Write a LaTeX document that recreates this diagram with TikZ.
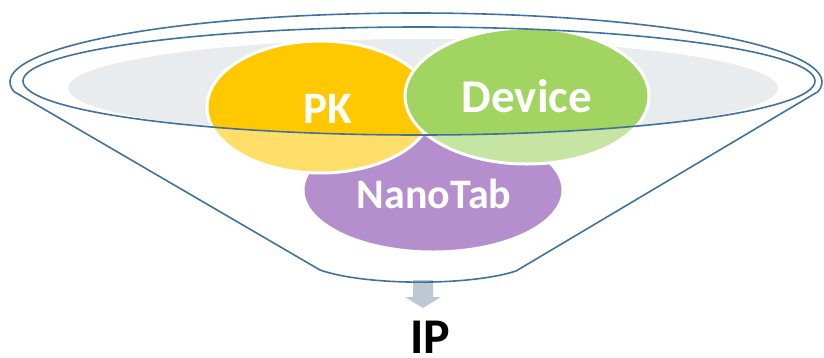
\documentclass[tikz,border=0pt]{standalone}
\usepackage{fontspec}
\setmainfont{Carlito}
\definecolor{funnelblue}{HTML}{41729C}
\definecolor{bowlgray}{HTML}{E8ECEF}
\definecolor{pkdark}{HTML}{FFC800}
\definecolor{pklight}{HTML}{FFDE6A}
\definecolor{devdark}{HTML}{A2D461}
\definecolor{devlight}{HTML}{C6E5A2}
\definecolor{nanocol}{HTML}{B48ECD}
\definecolor{arrowgray}{HTML}{BDC8D3}
\tikzset{
  funnelline/.style={draw=funnelblue, line width=1.6pt, line join=round},
  bubbleedge/.style={draw=white, line width=3pt},
  lbl/.style={text=white, anchor=base, inner sep=0pt},
}
\begin{document}
\begin{tikzpicture}[x=1pt,y=-1pt]
\useasboundingbox (0,0) rectangle (824,357);
% bowl inner gray
\fill[bowlgray] (423,88) ellipse [x radius=355, y radius=49];
% NanoTab
\fill[nanocol] (433,190) ellipse [x radius=130, y radius=62];
\draw[bubbleedge] (433,190) ellipse [x radius=130, y radius=62];
% PK
\fill[pklight] (320,107) ellipse [x radius=113, y radius=66];
\begin{scope}
  \clip (419,81) ellipse [x radius=396, y radius=54];
  \fill[pkdark] (320,107) ellipse [x radius=113, y radius=66];
\end{scope}
\draw[bubbleedge] (320,107) ellipse [x radius=113, y radius=66];
% Device
\fill[devlight] (527,96) ellipse [x radius=122, y radius=68];
\begin{scope}
  \clip (419,81) ellipse [x radius=396, y radius=54];
  \fill[devdark] (527,96) ellipse [x radius=122, y radius=68];
\end{scope}
\draw[bubbleedge] (527,96) ellipse [x radius=122, y radius=68];
% arrow
\fill[arrowgray] (413,280) -- (433,280) -- (433,297) -- (441,297) -- (423,308) -- (405,297) -- (413,297) -- cycle;
% funnel
\draw[funnelline] (419,81) ellipse [x radius=396, y radius=54];
\coordinate (lt) at ({416+406*cos(172)},{82+69*sin(172)});
\coordinate (bl) at (320,270);
\coordinate (br) at (516,271);
\draw[funnelline] (lt) arc [start angle=172, end angle=368, x radius=406, y radius=69]
  -- (br) .. controls (470,286) and (366,286) .. (bl) -- cycle;
% labels
\node[lbl, font=\bfseries\fontsize{45}{45}\selectfont] (pk) at (328,123) {PK};
\node[lbl, font=\bfseries\fontsize{47}{47}\selectfont] (dev) at (527,112) {Device};
\node[lbl, font=\bfseries\fontsize{42}{42}\selectfont] (nano) at (434,208) {NanoTab};
\node[anchor=base, inner sep=0pt, text depth=0pt, text=black, font=\bfseries\fontsize{50}{50}\selectfont] (ip) at (430,353) {IP};
\end{tikzpicture}
\end{document}
